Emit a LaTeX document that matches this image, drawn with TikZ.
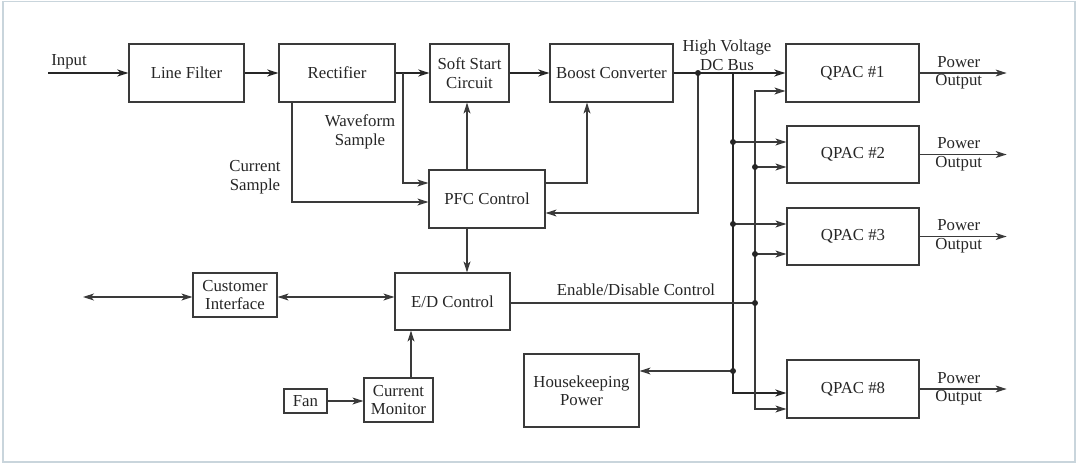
\documentclass[tikz,border=0pt]{standalone}
\usepackage{fontspec}
\setmainfont{Liberation Serif}
\usetikzlibrary{arrows.meta,calc,positioning}
\definecolor{framecol}{HTML}{C9D5DC}
\definecolor{linecol}{HTML}{3A3A3A}
\tikzset{
  >={Stealth[length=11pt,width=7pt,inset=3pt]},
  blk/.style={draw=linecol, line width=1.2pt, fill=white, inner sep=2pt,
    align=center, font=\fontsize{16.8}{18.5}\selectfont, text=black!85},
  lbl/.style={font=\fontsize{16.8}{18.5}\selectfont, align=center, text=black!85},
  sig/.style={->, draw=linecol, line width=1.1pt},
  plain/.style={draw=linecol, line width=1.1pt},
  pow/.style={->, draw=black!85, line width=2pt},
  bus/.style={draw=black!85, line width=2.4pt},
}

\begin{document}
\begin{tikzpicture}[x=1pt, y=-1pt]
\useasboundingbox (0,0) rectangle (1077,464);
\draw[framecol, line width=1.5pt] (3,1.5) rectangle (1075,462);

%% main power path
\node[blk, minimum width=115pt, minimum height=58pt] (filt)  at (186.5,73) {Line Filter};
\node[blk, minimum width=116pt, minimum height=58pt] (rect)  at (337,73)   {Rectifier};
\node[blk, minimum width=79pt,  minimum height=58pt] (ss)    at (469.5,73) {Soft Start\\Circuit};
\node[blk, minimum width=123pt, minimum height=58pt] (boost) at (611.5,73) {Boost Converter};

%% output modules
\node[blk, minimum width=133pt, minimum height=58pt] (q1) at (852.5,73)  {QPAC \#1};
\node[blk, minimum width=132pt, minimum height=57pt] (q2) at (853,154.5) {QPAC \#2};
\node[blk, minimum width=132pt, minimum height=57pt] (q3) at (853,236.5) {QPAC \#3};
\node[blk, minimum width=132pt, minimum height=58pt] (q8) at (853,389)   {QPAC \#8};

%% control
\node[blk, minimum width=116pt, minimum height=58pt] (pfc) at (487,199)   {PFC Control};
\node[blk, minimum width=115pt, minimum height=57pt] (ed)  at (452.5,301.5) {E/D Control};
\node[blk, minimum width=84pt,  minimum height=44pt] (ci)  at (235,295)   {Customer\\Interface};
\node[blk, minimum width=43pt,  minimum height=24pt] (fan) at (305.5,401) {Fan};
\node[blk, minimum width=69pt,  minimum height=44pt] (cm)  at (398.5,400) {Current\\Monitor};
\node[blk, minimum width=115pt, minimum height=73pt] (hk)  at (581.5,390.5) {Housekeeping\\Power};

%% junctions
\coordinate (inp) at (48,73);
\coordinate (wj)  at (403,73);
\coordinate (cs)  at (292,102);
\coordinate (hv)  at (698,73);
\coordinate (pc)  at (467,0);
\coordinate (bt)  at (733,73);
\coordinate (b2)  at (733,142);
\coordinate (b3)  at (733,224);
\coordinate (bh)  at (733,371);
\coordinate (b8)  at (733,393);
\coordinate (e1)  at (755,91);
\coordinate (e2)  at (755,167);
\coordinate (e3)  at (755,254);
\coordinate (ee)  at (755,303);
\coordinate (e8)  at (755,409);
\coordinate (ext) at (83,297);
\coordinate (cmx) at (411,0);

\draw[pow] (inp) -- (filt);
\node[lbl] (inlbl) at (69,62) {Input};
\draw[pow] (filt) -- (rect);
\draw[pow] (rect) -- (ss);
\draw[pow] (ss) -- (boost);
\draw[pow, line width=2.4pt] (boost) -- (q1);
\node[lbl] (hvlbl) at (727,55) {High Voltage\\DC Bus};

%% sampling and pfc loop
\draw[sig] (wj) |- ($(pfc.west)+(0,-16)$);
\node[lbl] (wflbl) at (360,132) {Waveform\\Sample};
\draw[sig] (cs |- rect.south) |- ($(pfc.west)+(0,3)$);
\node[lbl] (cslbl) at (255,177) {Current\\Sample};
\draw[sig] (pc |- pfc.north) -- (pc |- ss.south);
\draw[sig] ($(pfc.east)+(0,-16)$) -| ($(boost.south)+(-24.5,0)$);
\draw[sig] (hv) |- ($(pfc.east)+(0,14)$);
\draw[sig] (pc |- pfc.south) -- (pc |- ed.north);

%% dc bus to modules
\draw[bus, ->] (bt) -- (b8) -- (q8.west |- b8);
\draw[sig] (b2) -- (q2.west |- b2);
\draw[sig] (b3) -- (q3.west |- b3);
\draw[sig] (bh) -- (hk.east |- bh);

%% enable/disable line
\draw[sig, <->] (q1.west |- e1) -- (e1) -- (e8) -- (q8.west |- e8);
\draw[sig] (e2) -- (q2.west |- e2);
\draw[sig] (e3) -- (q3.west |- e3);
\draw[plain] (ed.east |- ee) -- (ee);
\node[lbl] (edlbl) at (636,290) {Enable/Disable Control};

%% customer side
\draw[sig, <->] (ext) -- (ci.west |- ext);
\draw[sig, <->] (ci.east |- ext) -- (ed.west |- ext);
\draw[sig] (fan.east) -- (cm.west |- fan.east);
\draw[sig] (cmx |- cm.north) -- (cmx |- ed.south);

\foreach \q in {q1,q2,q3,q8}
  \draw[sig] (\q.east) -- ++(87,0) node[lbl, pos=0.45] {Power\\Output};

\foreach \j in {hv,b2,b3,bh,e2,e3,ee}
  \fill[black!85] (\j) circle (3pt);
\end{tikzpicture}
\end{document}
